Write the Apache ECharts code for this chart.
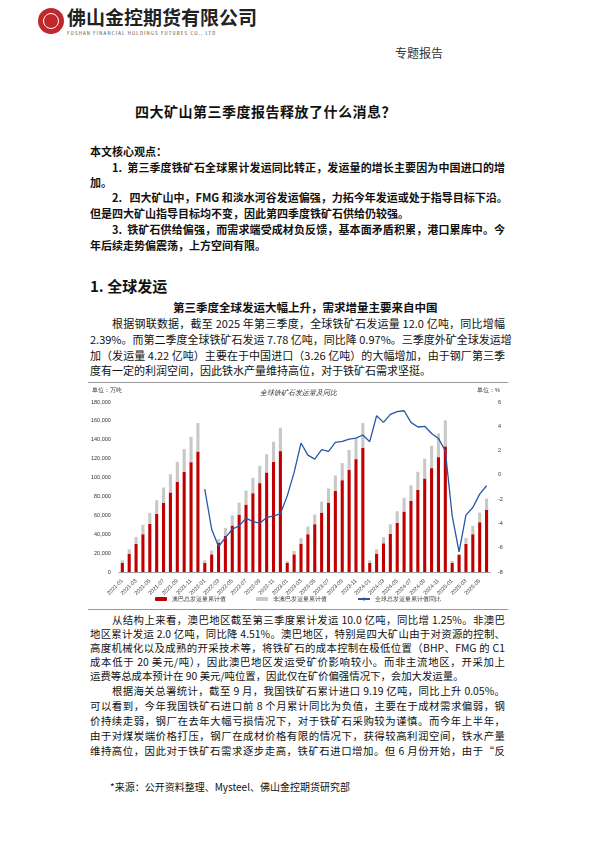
<!DOCTYPE html>
<html><head><meta charset="utf-8">
<script src="https://cdn.jsdelivr.net/npm/echarts@6/dist/echarts.min.js"></script>
<style>
body{margin:0;width:595px;height:842px;background:#fff;position:relative;font-family:"Noto Sans CJK SC","Noto Sans",sans-serif;color:#111;overflow:hidden}
.a{position:absolute;white-space:nowrap}
.l{position:absolute;left:90px;width:415px;font-size:11px;line-height:12px;white-space:nowrap;text-align:justify;text-align-last:justify;font-family:"Noto Sans CJK SC",serif}
.s{font-size:10.4px}
.l.e{text-align-last:left}
.b{font-weight:bold}
#chart{position:absolute;left:88px;top:382px;width:420px;height:226px;border-top:1px solid #999;border-bottom:1px solid #999}
</style></head><body>
<div class="a" style="left:38px;top:8px;width:26px;height:26px;border-radius:50%;background:#c0282c"></div>
<div class="a" style="left:43px;top:13px;width:16px;height:16px;border-radius:50%;border:1.5px solid #fff;box-sizing:border-box"></div>
<div class="a b" style="left:67px;top:6px;font-size:19px;line-height:22px;color:#222">佛山金控期货有限公司</div>
<div class="a" style="left:67px;top:31px;font-size:4.3px;line-height:5px;letter-spacing:1.2px;color:#333">FOSHAN FINANCIAL HOLDINGS FUTURES CO., LTD</div>
<div class="a" style="left:395px;top:44px;font-size:12px;color:#333">专题报告</div>
<div class="a b" style="left:135px;top:101px;font-size:14px;letter-spacing:0.5px">四大矿山第三季度报告释放了什么消息？</div>

<div class="l b e" style="top:145px">本文核心观点：</div>
<div class="l b" style="top:161px;left:112px;width:393px">1.&nbsp; 第三季度铁矿石全球累计发运同比转正，发运量的增长主要因为中国进口的增</div>
<div class="l b e" style="top:176px">加。</div>
<div class="l b" style="top:191px;left:112px;width:393px">2.&nbsp;&nbsp; 四大矿山中，FMG 和淡水河谷发运偏强，力拓今年发运或处于指导目标下沿。</div>
<div class="l b e" style="top:207px">但是四大矿山指导目标均不变，因此第四季度铁矿石供给仍较强。</div>
<div class="l b" style="top:223px;left:112px;width:393px">3.&nbsp; 铁矿石供给偏强，而需求端受成材负反馈，基本面矛盾积累，港口累库中。今</div>
<div class="l b e" style="top:239px">年后续走势偏震荡，上方空间有限。</div>

<div class="a b" style="left:90px;top:275px;font-size:15px">1. 全球发运</div>
<div class="a b" style="left:173px;top:299px;font-size:11.5px">第三季度全球发运大幅上升，需求增量主要来自中国</div>
<div class="l" style="top:317px;left:112px;width:393px">根据钢联数据，截至 2025 年第三季度，全球铁矿石发运量 12.0 亿吨，同比增幅</div>
<div class="l" style="top:333px">2.39%。而第二季度全球铁矿石发运 7.78 亿吨，同比降 0.97%。三季度外矿全球发运增</div>
<div class="l" style="top:349px">加（发运量 4.22 亿吨）主要在于中国进口（3.26 亿吨）的大幅增加，由于钢厂第三季</div>
<div class="l e" style="top:364px">度有一定的利润空间，因此铁水产量维持高位，对于铁矿石需求坚挺。</div>

<div id="chart"></div>

<div class="l s" style="top:614px;left:112px;width:393px">从结构上来看，澳巴地区截至第三季度累计发运 10.0 亿吨，同比增 1.25%。非澳巴</div>
<div class="l s" style="top:628px">地区累计发运 2.0 亿吨，同比降 4.51%。澳巴地区，特别是四大矿山由于对资源的控制、</div>
<div class="l s" style="top:642px">高度机械化以及成熟的开采技术等，将铁矿石的成本控制在极低位置（BHP、FMG 的 C1</div>
<div class="l s" style="top:656px">成本低于 20 美元/吨），因此澳巴地区发运受矿价影响较小。而非主流地区，开采加上</div>
<div class="l s e" style="top:670px">运费等总成本预计在 90 美元/吨位置，因此仅在矿价偏强情况下，会加大发运量。</div>
<div class="l s" style="top:685px;left:112px;width:393px">根据海关总署统计，截至 9 月，我国铁矿石累计进口 9.19 亿吨，同比上升 0.05%。</div>
<div class="l s" style="top:700px">可以看到，今年我国铁矿石进口前 8 个月累计同比为负值，主要在于成材需求偏弱，钢</div>
<div class="l s" style="top:715px">价持续走弱，钢厂在去年大幅亏损情况下，对于铁矿石采购较为谨慎。而今年上半年，</div>
<div class="l s" style="top:730px">由于对煤炭端价格打压，钢厂在成材价格有限的情况下，获得较高利润空间，铁水产量</div>
<div class="l s" style="top:745px">维持高位，因此对于铁矿石需求逐步走高，铁矿石进口增加。但 6 月份开始，由于“反</div>
<div class="a" style="left:110px;top:779px;font-size:10px">*来源：公开资料整理、Mysteel、佛山金控期货研究部</div>

<script>
const months = [];
for (let y = 2021; y <= 2025; y++) for (let m = 1; m <= 12; m++) { if (y === 2025 && m > 6) break; months.push(y + '-' + String(m).padStart(2, '0')); }

// 澳巴总发运量累计值 (万吨)
const abCum = [9900,19100,29700,40000,50900,61500,73200,84200,95500,106100,116300,127600,
  9500,18700,31100,38200,49200,60800,71400,83400,94100,105400,116700,128000,
  9900,18700,30000,40000,50600,62900,73500,85900,97200,108200,119500,131500,
  9500,19400,30400,40300,52000,64000,75300,87000,99000,110000,121600,133000,
  9500,18000,29700,40000,52700,65800];
// 全球总发运量累计值 (万吨)
const totalCum = [12400,24000,37100,49900,62600,76000,89500,103600,116700,130100,143200,157700,
  12400,22600,35000,46700,60100,73500,86300,99700,112400,124800,137900,152800,
  11700,22300,35700,48100,60800,74600,88400,102200,115300,129100,141400,157700,
  12400,24000,36800,50600,64400,78500,91900,106100,119900,133700,146700,160500,
  11700,19100,36100,48800,62900,77800];
// 全球总发运量累计值同比 (%)
const yoy = [null,null,null,null,null,null,null,null,null,null,null,null,
  -1.18,-4.48,-5.9,-5.17,-4.48,-4.2,-3.57,-3.85,-3.98,-3.52,-3.38,-3.21,
  -1.73,0.2,2.62,1.63,1.3,2.07,1.93,2.67,2.75,2.95,3.03,3.28,
  2.73,4.87,4.32,4.98,5.2,5.28,4.32,3.94,4.0,3.41,3.0,1.98,
  -3.38,-6.35,-3.32,-2.69,-1.59,-0.9];
const nonAb = totalCum.map((t, i) => t - abCum[i]);

const chart = echarts.init(document.getElementById('chart'));
const lbl = { fontSize: 5.5, color: '#333' };
chart.setOption({
  animation: false,
  title: { text: '全球铁矿石发运量及同比', left: 'center', top: 2, textStyle: { fontSize: 7, fontWeight: 'normal', fontStyle: 'italic', color: '#333' } },
  graphic: [
    { type: 'text', left: 4, top: 4, style: { text: '单位：万吨', fontSize: 5.5, fill: '#333' } },
    { type: 'text', right: 8, top: 4, style: { text: '单位：%', fontSize: 5.5, fill: '#333' } }
  ],
  legend: { bottom: 2, itemWidth: 12, itemHeight: 4, itemGap: 30, textStyle: { fontSize: 5.5, color: '#333' },
    data: ['澳巴总发运量累计值', '非澳巴发运量累计值', '全球总发运量累计值同比'] },
  grid: { left: 30, right: 18, top: 19, bottom: 37 },
  xAxis: { type: 'category', data: months,
    axisLine: { lineStyle: { color: '#999' } }, axisTick: { show: false },
    axisLabel: Object.assign({ interval: 1, rotate: 45 }, lbl) },
  yAxis: [
    { type: 'value', min: 0, max: 180000, interval: 20000, splitLine: { show: false }, axisLabel: lbl },
    { type: 'value', min: -8, max: 6, interval: 2, splitLine: { show: false }, axisLabel: lbl }
  ],
  series: [
    { name: '澳巴总发运量累计值', type: 'bar', stack: 'a', data: abCum, barWidth: '45%', itemStyle: { color: '#c00000' } },
    { name: '非澳巴发运量累计值', type: 'bar', stack: 'a', data: nonAb, itemStyle: { color: '#c8c8c8' } },
    { name: '全球总发运量累计值同比', type: 'line', yAxisIndex: 1, data: yoy, symbol: 'none', lineStyle: { color: '#2a56a6', width: 1.3 }, itemStyle: { color: '#2a56a6' } }
  ]
});
</script>
</body></html>
